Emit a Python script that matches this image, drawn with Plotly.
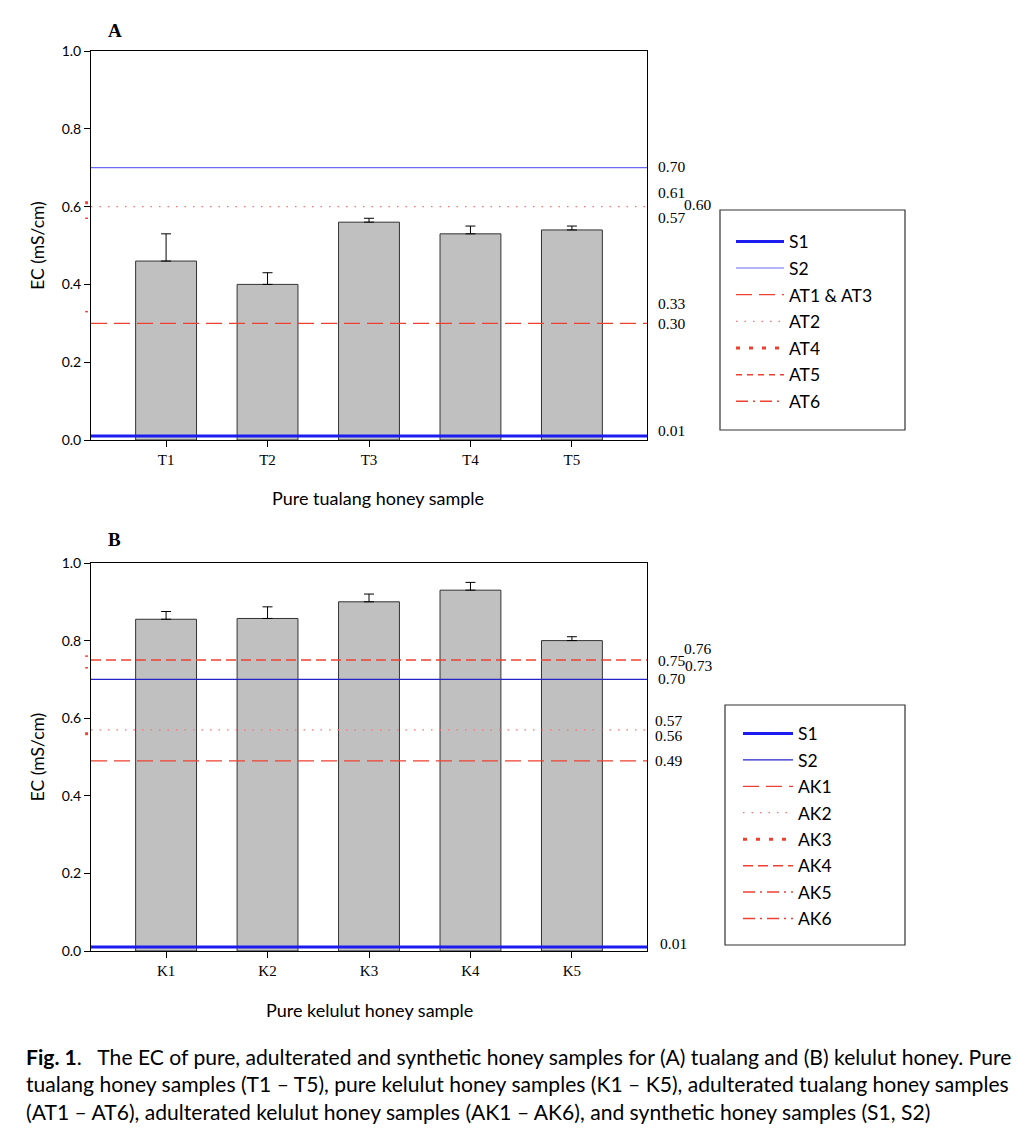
import plotly.graph_objects as go

# ---------------- data ----------------
cats_a = ["T1", "T2", "T3", "T4", "T5"]
ec_a = [0.46, 0.40, 0.56, 0.53, 0.54]
err_a = [0.07, 0.03, 0.01, 0.02, 0.01]

cats_b = ["K1", "K2", "K3", "K4", "K5"]
ec_b = [0.855, 0.857, 0.90, 0.93, 0.80]
err_b = [0.02, 0.03, 0.02, 0.02, 0.01]

ref_names_a = ["S1", "S2", "AT1 & AT3", "AT2", "AT4", "AT5", "AT6"]
ref_vals_a = [0.01, 0.70, 0.30, 0.60, 0.61, 0.57, 0.33]

ref_names_b = ["S1", "S2", "AK1", "AK2", "AK3", "AK4", "AK5", "AK6"]
ref_vals_b = [0.01, 0.70, 0.49, 0.57, 0.56, 0.75, 0.76, 0.73]

yticks = [0.0, 0.2, 0.4, 0.6, 0.8, 1.0]

# ---------------- styles ----------------
W, H = 1036, 1136
SANS = "Lato, 'Open Sans', sans-serif"
SERIF = "'Liberation Serif', 'Times New Roman', serif"
BLUE = "#1c1cf0"
RED = "#ee4030"
PINK = "#ff7070"

# style per reference line: (color, width, dash, full_line)
styles_a = [
    (BLUE, 3, "solid", True),
    ("#6a6af2", 1.2, "solid", True),
    (RED, 1.3, "16px,7px", True),
    (PINK, 1.3, "1.5px,7px", True),
    (RED, 3, "4px,9px", False),
    (RED, 1.5, "6px,5px", False),
    (RED, 1.5, "12px,5px,2px,5px", False),
]
styles_b = [
    (BLUE, 3, "solid", True),
    ("#2424c8", 1.2, "solid", True),
    (RED, 1.3, "16px,7px", True),
    (PINK, 1.3, "1.5px,7px", True),
    (RED, 3, "4px,9px", False),
    (RED, 1.5, "10px,5px", True),
    (RED, 1.5, "12px,5px,2px,5px", False),
    (RED, 1.5, "12px,5px,2px,5px", False),
]
# label placement tweaks: (x offset px from right axis, y shift px)
lab_a = [(9, 6), (9, 1), (9, 0), (35, 2), (9, 10), (9, 1), (9, 8)]
lab_b = [(11, 4), (9, 1), (6, 0), (6, 9), (6, -2), (9, 0), (35, 8), (36, 2)]


def px_x(p):
    return p / W


def px_y(p):
    return 1 - p / H


panels = [
    dict(cats=cats_a, ec=ec_a, err=err_a, names=ref_names_a, vals=ref_vals_a,
         styles=styles_a, labs=lab_a, xa="x", ya="y", xdom=(91, 647), ydom=(51, 440),
         title="Pure tualang honey sample", title_xy=(378, 498), letter="A", letter_y=30,
         legend="legend", box=(720, 210, 905, 430), leg_y=223.5, leg_x=731, itemw=48, gap=0.9),
    dict(cats=cats_b, ec=ec_b, err=err_b, names=ref_names_b, vals=ref_vals_b,
         styles=styles_b, labs=lab_b, xa="x2", ya="y2", xdom=(91, 647), ydom=(563, 951),
         title="Pure kelulut honey sample", title_xy=(369, 1010), letter="B", letter_y=540,
         legend="legend2", box=(725, 705, 905, 945), leg_y=715.5, leg_x=738, itemw=50, gap=0.7),
]

fig = go.Figure()
shapes = []
annotations = []
layout_axes = {}

for pi, p in enumerate(panels):
    xpos = list(range(len(p["cats"])))
    fig.add_trace(go.Bar(
        x=xpos, y=p["ec"], width=0.6, xaxis=p["xa"], yaxis=p["ya"],
        marker=dict(color="#c0c0c0", line=dict(color="#333333", width=1)),
        error_y=dict(type="data", array=p["err"], arrayminus=[0] * len(p["err"]),
                     symmetric=False, color="black", thickness=1, width=5),
        showlegend=False, hoverinfo="skip",
    ))
    xref_dom = p["xa"] + " domain"
    for i, (name, val) in enumerate(zip(p["names"], p["vals"])):
        color, width, dash, full = p["styles"][i]
        if full:
            x0, x1 = 0, 1
        else:
            x0, x1 = -0.0105, -0.0055
        shapes.append(dict(
            type="line", xref=xref_dom, yref=p["ya"], x0=x0, x1=x1, y0=val, y1=val,
            line=dict(color=color, width=width, dash=dash), layer="above",
            showlegend=True, name=name, legend=p["legend"], legendrank=i + 1,
            legendgroup=p["legend"] + name,
        ))
        dx, dy = p["labs"][i]
        annotations.append(dict(
            text=f"{val:.2f}", xref=xref_dom, yref=p["ya"], x=1, y=val,
            xanchor="left", yanchor="middle", xshift=dx, yshift=dy, showarrow=False,
            font=dict(family=SERIF, size=15.5, color="black"),
        ))
    # panel letter
    annotations.append(dict(
        text=f"<b>{p['letter']}</b>", xref="paper", yref="paper", x=px_x(106), y=px_y(p["letter_y"]),
        xanchor="left", yanchor="middle", showarrow=False,
        font=dict(family=SERIF, size=19, color="black"),
    ))
    # x axis title
    tx, ty = p["title_xy"]
    annotations.append(dict(
        text=p["title"], xref="paper", yref="paper", x=px_x(tx), y=px_y(ty),
        xanchor="center", yanchor="middle", showarrow=False,
        font=dict(family=SANS, size=18, color="black"),
    ))
    # legend box
    bx0, by0, bx1, by1 = p["box"]
    shapes.append(dict(type="rect", xref="paper", yref="paper",
                       x0=px_x(bx0), x1=px_x(bx1), y0=px_y(by1), y1=px_y(by0),
                       line=dict(color="#333333", width=1.2), fillcolor="rgba(0,0,0,0)"))
    xk = "xaxis" if pi == 0 else "xaxis2"
    yk = "yaxis" if pi == 0 else "yaxis2"
    layout_axes[xk] = dict(
        domain=[px_x(p["xdom"][0]), px_x(p["xdom"][1])], anchor=p["ya"],
        range=[-0.74, len(p["cats"]) - 1 + 0.74], automargin=False,
        tickvals=xpos, ticktext=p["cats"], ticks="outside", ticklen=6, tickcolor="black",
        showline=True, linecolor="black", linewidth=1, mirror=True, showgrid=False,
        zeroline=False, tickfont=dict(family=SERIF, size=15, color="black"),
    )
    layout_axes[yk] = dict(
        domain=[px_y(p["ydom"][1]), px_y(p["ydom"][0])], anchor=p["xa"], automargin=False,
        range=[0, 1], tickvals=yticks, tickformat=".1f", ticks="outside", ticklen=6,
        tickcolor="black", showline=True, linecolor="black", linewidth=1, mirror=True,
        showgrid=False, zeroline=False, tickfont=dict(family=SANS, size=14, color="black"),
        title=dict(text="EC (mS/cm)", standoff=12, font=dict(family=SANS, size=17.5, color="black")),
    )
    layout_axes[p["legend"]] = dict(
        x=px_x(p["leg_x"]), y=px_y(p["leg_y"]), xanchor="left", yanchor="top",
        bgcolor="rgba(0,0,0,0)", borderwidth=0, tracegroupgap=p["gap"],
        font=dict(family=SANS, size=17.5, color="black"), itemwidth=p["itemw"],
    )

# caption
caption_lines = [
    "<b>Fig. 1</b>.   The EC of pure, adulterated and synthetic honey samples for (A) tualang and (B) kelulut honey. Pure",
    "tualang honey samples (T1 – T5), pure kelulut honey samples (K1 – K5), adulterated tualang honey samples",
    "(AT1 – AT6), adulterated kelulut honey samples (AK1 – AK6), and synthetic honey samples (S1, S2)",
]
for k, line in enumerate(caption_lines):
    annotations.append(dict(
        text=line, xref="paper", yref="paper", x=px_x(24), y=px_y(1056 + 27.5 * k),
        xanchor="left", yanchor="middle", showarrow=False,
        font=dict(family=SANS, size=21.1, color="black"),
    ))

fig.update_layout(
    width=W, height=H, margin=dict(l=0, r=0, t=0, b=0, autoexpand=False),
    paper_bgcolor="white", plot_bgcolor="white",
    shapes=shapes, annotations=annotations, bargap=0.4,
    **layout_axes,
)

fig.write_html("out.html", config={"displayModeBar": False},
               post_script="document.body.style.margin='0';")
